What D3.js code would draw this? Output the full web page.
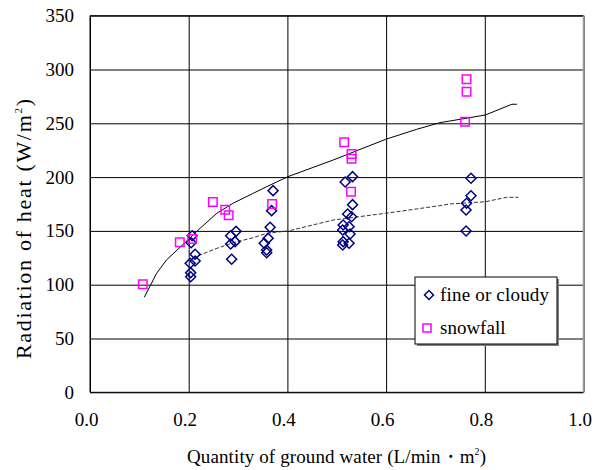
<!DOCTYPE html>
<html>
<head>
<meta charset="utf-8">
<script src="https://cdn.jsdelivr.net/npm/d3@7"></script>
<style>
  body { margin: 0; background: #fff; }
  svg text { font-family: "Liberation Serif", "Times New Roman", serif !important; fill: #000; }
</style>
</head>
<body>
<div id="chart"></div>
<script>
// observations: fine or cloudy
var fineX = [0.207, 0.205, 0.213, 0.213, 0.203, 0.204, 0.204,
             0.285, 0.296, 0.294, 0.285, 0.287,
             0.371, 0.368, 0.365, 0.361, 0.353, 0.358, 0.358,
             0.532, 0.517, 0.532, 0.522, 0.530, 0.513, 0.525, 0.512, 0.527, 0.513, 0.525, 0.512,
             0.772, 0.772, 0.763, 0.762, 0.762];
var fineY = [145.5, 139, 128.3, 122, 119.9, 111.2, 107.4,
             145.5, 149.6, 140, 137.8, 123.6,
             187.4, 168.8, 153.4, 143.1, 138.5, 132.3, 129.7,
             200.4, 195.5, 174.4, 165.7, 163.2, 155.5, 153.9, 150.8, 147.1, 140, 138.5, 136.9,
             198.9, 182.7, 175.7, 169.4, 149.9];

// observations: snowfall
var snowX = [0.107, 0.182, 0.207, 0.249, 0.274, 0.281, 0.369, 0.515, 0.530, 0.530, 0.529, 0.763, 0.763, 0.760];
var snowY = [100.4, 139.4, 142.5, 176.9, 169.7, 164.5, 175, 232.3, 221.5, 217.1, 186.4, 290.9, 279.4, 251.5];

// fitted curves
var solidX = [0.110, 0.135, 0.155, 0.198, 0.223, 0.257, 0.290, 0.331, 0.358, 0.401, 0.493, 0.599, 0.662, 0.709, 0.729, 0.801, 0.855, 0.865];
var solidY = [88.3, 110.6, 123, 141.5, 152.4, 166.4, 175.7, 185, 191.1, 200.4, 215.9, 235.1, 244.4, 250.6, 252.1, 257.7, 267.7, 267.7];
var dashX = [0.209, 0.223, 0.257, 0.290, 0.331, 0.358, 0.401, 0.493, 0.599, 0.662, 0.709, 0.729, 0.801, 0.844, 0.868];
var dashY = [123.9, 127.6, 133.8, 139, 143.7, 147.8, 149.9, 160.1, 166.4, 170.4, 173.5, 175, 177.1, 181.2, 181.2];

var xTicks = [0, 0.2, 0.4, 0.6, 0.8, 1.0];
var yTicks = [0, 50, 100, 150, 200, 250, 300, 350];
var legendLabels = ["fine or cloudy", "snowfall"];

(function() {
  var W = 595, H = 470;
  var mLeft = 90, mRight = 583.5, mTop = 15.7, mBottom = 392.3;
  var serif = '"Liberation Serif", "Times New Roman", serif';

  var svg = d3.select("#chart").append("svg")
    .attr("width", W)
    .attr("height", H)
    .attr("font-family", serif);

  var x = d3.scaleLinear().domain([0, 1]).range([mLeft, mRight]);
  var y = d3.scaleLinear().domain([0, 350]).range([mBottom, mTop]);

  // grid + axes
  var gx = svg.append("g")
    .attr("transform", `translate(0,${mBottom})`)
    .call(d3.axisBottom(x).tickValues(xTicks).tickFormat(d3.format(".1f"))
      .tickSize(-(mBottom - mTop)).tickPadding(20));
  var gy = svg.append("g")
    .attr("transform", `translate(${mLeft},0)`)
    .call(d3.axisLeft(y).tickValues(yTicks).tickSize(-(mRight - mLeft)).tickPadding(16));

  [gx, gy].forEach(function(g) {
    g.attr("font-family", serif).attr("font-size", 19);
    g.select(".domain").remove();
    g.selectAll(".tick line").attr("stroke", "#000").attr("stroke-width", 1);
    g.selectAll(".tick text").attr("fill", "#000");
  });
  gx.selectAll(".tick text").attr("dx", "-4px");

  // frame
  svg.append("line").attr("x1", mLeft).attr("x2", mLeft).attr("y1", mTop).attr("y2", mBottom)
    .attr("stroke", "#000");
  svg.append("line").attr("x1", mLeft).attr("x2", mRight).attr("y1", mBottom).attr("y2", mBottom)
    .attr("stroke", "#000");
  svg.append("line").attr("x1", mLeft).attr("x2", mRight).attr("y1", mTop).attr("y2", mTop)
    .attr("stroke", "#000");
  svg.append("line").attr("x1", mRight).attr("x2", mRight).attr("y1", mTop).attr("y2", mBottom)
    .attr("stroke", "#999").attr("stroke-width", 1.5);

  // curves
  var line = d3.line().x(d => x(d[0])).y(d => y(d[1]));
  svg.append("path")
    .datum(d3.zip(solidX, solidY))
    .attr("d", line)
    .attr("fill", "none")
    .attr("stroke", "#000")
    .attr("stroke-width", 1);
  svg.append("path")
    .datum(d3.zip(dashX, dashY))
    .attr("d", line)
    .attr("fill", "none")
    .attr("stroke", "#333")
    .attr("stroke-width", 1)
    .attr("stroke-dasharray", "4,2");

  // markers
  var diamond = d3.symbol().type(d3.symbolSquare).size(50);
  var square = d3.symbol().type(d3.symbolSquare).size(72);

  svg.append("g").selectAll("path")
    .data(d3.zip(fineX, fineY))
    .join("path")
      .attr("d", diamond)
      .attr("transform", d => `translate(${x(d[0])},${y(d[1])}) rotate(45)`)
      .attr("fill", "none")
      .attr("stroke", "#000080")
      .attr("stroke-width", 1.5);

  svg.append("g").selectAll("path")
    .data(d3.zip(snowX, snowY))
    .join("path")
      .attr("d", square)
      .attr("transform", d => `translate(${x(d[0])},${y(d[1])})`)
      .attr("fill", "none")
      .attr("stroke", "#ff00ff")
      .attr("stroke-width", 1.5);

  // legend
  var lg = svg.append("g");
  lg.append("rect").attr("x", 417).attr("y", 279).attr("width", 142).attr("height", 67)
    .attr("fill", "#808080");
  lg.append("rect").attr("x", 415).attr("y", 277).attr("width", 142).attr("height", 67)
    .attr("fill", "#fff").attr("stroke", "#000").attr("stroke-width", 1);
  lg.append("path").attr("d", d3.symbol().type(d3.symbolSquare).size(40))
    .attr("transform", "translate(429,295) rotate(45)")
    .attr("fill", "none").attr("stroke", "#000080").attr("stroke-width", 1.5);
  lg.append("path").attr("d", d3.symbol().type(d3.symbolSquare).size(64))
    .attr("transform", "translate(427,328)")
    .attr("fill", "none").attr("stroke", "#ff00ff").attr("stroke-width", 1.5);
  lg.append("text").attr("x", 440).attr("y", 301).style("font-size", "19px")
    .attr("textLength", 109).attr("lengthAdjust", "spacing")
    .text(legendLabels[0]);
  lg.append("text").attr("x", 440).attr("y", 334).style("font-size", "19px")
    .text(legendLabels[1]);

  // axis titles
  var xt = svg.append("text")
    .attr("x", 187).attr("y", 463)
    .style("font-size", "19px")
    .attr("textLength", 299).attr("lengthAdjust", "spacing");
  xt.append("tspan").text("Quantity of ground water (L/min・m");
  xt.append("tspan").attr("dy", "-8").style("font-size", "10px").text("2");
  xt.append("tspan").attr("dy", "8").text(")");

  var yt = svg.append("text")
    .attr("transform", "translate(31,359) rotate(-90)")
    .style("font-size", "22px")
    .attr("textLength", 260).attr("lengthAdjust", "spacing");
  yt.append("tspan").text("Radiation of  heat (W/m");
  yt.append("tspan").attr("dy", "-9").style("font-size", "11px").text("2");
  yt.append("tspan").attr("dy", "9").text(")");
})();
</script>
</body>
</html>
